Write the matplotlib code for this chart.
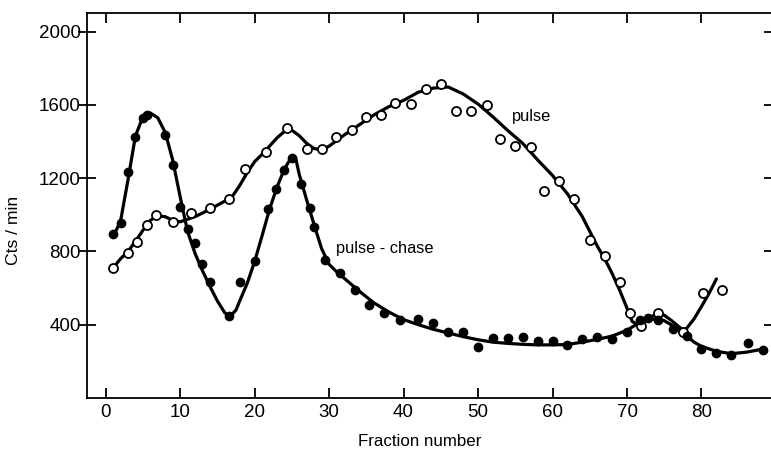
import matplotlib.pyplot as plt

plt.rcParams['font.family'] = ['Liberation Sans', 'DejaVu Sans']

# measured points, pulse-chase (filled circles)
chase_frac = [1, 2, 3, 4, 5, 5.6, 8, 9, 10, 11, 12, 13, 14, 16.5, 18, 20,
              21.8, 22.9, 23.9, 25, 26.2, 27.4, 28, 29.4, 31.5, 33.5, 35.3,
              37.4, 39.5, 42, 43.9, 46, 48, 50, 52, 54, 56, 58, 60, 62, 64,
              66, 68, 70, 71.7, 72.8, 74.1, 76.2, 78, 80, 82, 84, 86.2, 88.2]
chase_cpm = [893, 953, 1234, 1423, 1530, 1545, 1435, 1273, 1045, 920, 847,
             729, 632, 449, 632, 747, 1034, 1140, 1246, 1313, 1167, 1039,
             935, 756, 683, 592, 510, 464, 424, 433, 407, 359, 363, 281, 330,
             327, 333, 309, 309, 290, 320, 335, 321, 363, 427, 437, 427, 376,
             340, 267, 245, 236, 300, 263]

# measured points, pulse (open circles)
pulse_frac = [1, 3, 4.2, 5.5, 6.8, 9, 11.5, 14, 16.6, 18.7, 21.5, 24.4, 27,
              29, 30.9, 33.1, 34.9, 37, 38.9, 41, 43, 45, 47, 49, 51.2, 53,
              55, 57.1, 58.9, 60.9, 62.9, 65, 67, 69, 70.4, 71.9, 74.1, 77.5,
              80.2, 82.7]
pulse_cpm = [711, 789, 851, 942, 997, 961, 1012, 1039, 1085, 1253, 1344,
             1472, 1359, 1359, 1423, 1465, 1532, 1545, 1611, 1605, 1688, 1715,
             1569, 1569, 1600, 1414, 1377, 1372, 1131, 1186, 1088, 862, 773,
             636, 464, 391, 464, 360, 573, 588]

# hand-drawn fitted curves
chase_curve_x = [1, 2, 3, 4, 5, 6, 7, 8, 9, 10, 11, 12, 13, 14, 15, 16, 16.7,
                 17.5, 18, 19, 20, 21, 22, 23, 24, 25, 25.5, 26, 27, 28, 29,
                 30, 31, 32, 34, 36, 38, 40, 42, 44, 46, 48, 50, 52, 54, 56,
                 58, 60, 62, 64, 66, 68, 70, 71, 72, 73, 74, 75, 76, 77, 78,
                 79, 80, 82, 84, 86, 88]
chase_curve_y = [880, 965, 1190, 1430, 1535, 1556, 1530, 1450, 1300, 1100,
                 910, 790, 695, 610, 530, 465, 445, 480, 530, 625, 745, 885,
                 1030, 1150, 1250, 1318, 1312, 1220, 1080, 945, 815, 730, 690,
                 655, 585, 520, 470, 428, 400, 375, 355, 335, 318, 305, 298,
                 293, 290, 290, 292, 305, 320, 338, 370, 395, 415, 428, 432,
                 422, 398, 370, 340, 305, 282, 255, 242, 250, 265]

pulse_curve_x = [1, 2, 3, 4, 5, 6, 7, 8, 9, 10, 12, 14, 16, 17, 18, 19, 20,
                 21, 22, 23, 24, 25, 26, 27, 28, 29, 30, 32, 34, 36, 38, 40,
                 42, 44, 46, 48, 50, 52, 54, 56, 58, 60, 62, 64, 66, 67, 68,
                 69, 70, 70.7, 71.5, 72, 73, 74, 75, 76, 77, 77.5, 78, 79, 80,
                 81, 82]
pulse_curve_y = [710, 760, 800, 855, 915, 970, 995, 990, 970, 962, 990, 1030,
                 1075, 1100, 1160, 1230, 1290, 1330, 1375, 1420, 1455, 1462,
                 1432, 1390, 1362, 1355, 1375, 1435, 1490, 1545, 1590, 1625,
                 1670, 1692, 1698, 1660, 1605, 1535, 1460, 1390, 1300, 1215,
                 1115, 990, 830, 760, 680, 590, 490, 418, 398, 405, 438, 460,
                 452, 422, 388, 372, 380, 432, 500, 570, 650]

x_ticks = [0, 10, 20, 30, 40, 50, 60, 70, 80]
y_ticks = [400, 800, 1200, 1600, 2000]

fig = plt.figure(figsize=(7.71, 4.5), dpi=100)
ax = fig.add_axes([87 / 771, 52 / 450, 686 / 771, 385 / 450])

ax.plot(pulse_curve_x, pulse_curve_y, color='black', lw=2.3,
        solid_joinstyle='round', solid_capstyle='round', zorder=2)
ax.plot(chase_curve_x, chase_curve_y, color='black', lw=2.3,
        solid_joinstyle='round', solid_capstyle='round', zorder=2)
ax.plot(pulse_frac, pulse_cpm, 'o', ms=6.5, mfc='white', mec='black',
        mew=1.3, zorder=3)
ax.plot(chase_frac, chase_cpm, 'o', ms=6, mfc='black', mec='black', zorder=3)

ax.text(54.6, 1514, 'pulse', fontsize=11.8, ha='left', va='baseline')
ax.text(37.45, 793, 'pulse - chase', fontsize=11.8, ha='center',
        va='baseline')

ax.set_xlim(-2.5, 89.6)
ax.set_ylim(0, 2102)
ax.set_xticks(x_ticks)
ax.set_yticks(y_ticks)

for side in ax.spines.values():
    side.set_linewidth(1.3)

ax.tick_params(axis='x', which='both', direction='in', length=7.5, width=1.3,
               top=True, labelsize=13.5, pad=4)
ax.tick_params(axis='y', which='both', direction='inout', length=13,
               width=1.3, right=True, labelsize=13.5, pad=-2)

fig.text(420 / 771, 1 - 441 / 450, 'Fraction number', fontsize=12.2,
         ha='center', va='center')
fig.text(13 / 771, 1 - 230 / 450, 'Cts / min', fontsize=12.6, rotation=90,
         ha='center', va='center')

fig.savefig('out.png', dpi=100)
